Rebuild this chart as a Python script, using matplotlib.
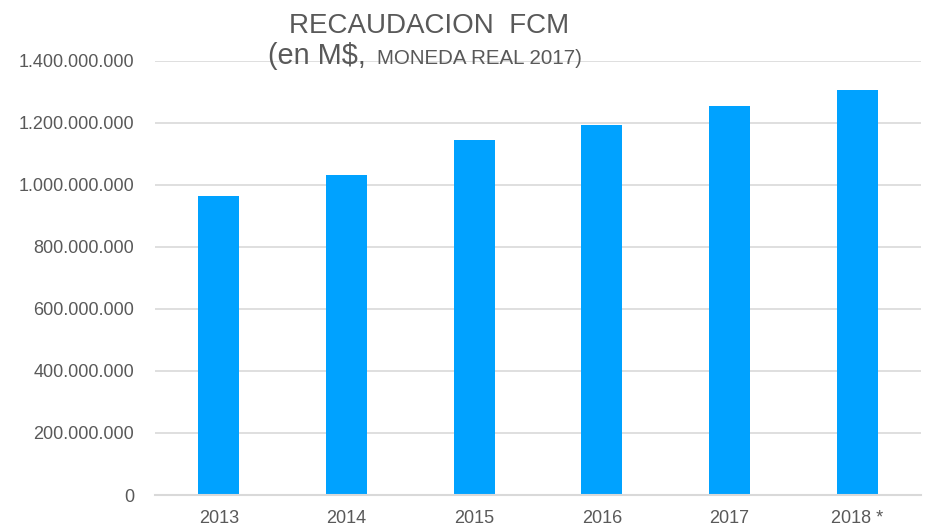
import matplotlib
matplotlib.use("Agg")
import matplotlib.pyplot as plt
from matplotlib.ticker import FuncFormatter, MultipleLocator

plt.rcParams["font.family"] = ["Liberation Sans", "DejaVu Sans"]

# ── Data ─────────────────────────────────────────────────────────────────────
years = ["2013", "2014", "2015", "2016", "2017", "2018 *"]
recaudacion = [965_000_000, 1_030_000_000, 1_145_000_000,
               1_194_000_000, 1_255_000_000, 1_306_000_000]

GRAY = "#595959"
GRID = "#d9d9d9"
BAR = "#00a2ff"


def fmt_miles(v, _pos):
    return f"{v:,.0f}".replace(",", ".")


fig = plt.figure(figsize=(9.3, 5.28), dpi=100)
ax = fig.add_axes([155 / 930, 1 - 495 / 528, (921 - 155) / 930, (495 - 60.7) / 528])

x = range(len(years))
ax.bar(x, recaudacion, width=0.32, color=BAR, zorder=3)

ax.set_xlim(-0.5, len(years) - 0.5)
ax.set_ylim(0, 1_400_000_000)
ax.yaxis.set_major_locator(MultipleLocator(200_000_000))
ax.yaxis.set_major_formatter(FuncFormatter(fmt_miles))
ax.set_xticks(list(x))
ax.set_xticklabels(years)

ax.grid(axis="y", color=GRID, linewidth=1.2, zorder=0)
for side in ["top", "right", "left"]:
    ax.spines[side].set_visible(False)
ax.spines["bottom"].set_color(GRID)
ax.spines["bottom"].set_linewidth(1.5)
ax.spines["bottom"].set_zorder(4)
ax.tick_params(axis="both", length=0, labelsize=13, colors=GRAY)
ax.tick_params(axis="y", pad=15)
ax.tick_params(axis="x", pad=11)

# ── Title ────────────────────────────────────────────────────────────────────
fig.text(429 / 930, 1 - 33 / 528, "RECAUDACION  FCM", ha="center",
         va="baseline", fontsize=20, color=GRAY)
fig.text(268 / 930, 1 - 64 / 528, "(en M$,", ha="left",
         va="baseline", fontsize=20.8, color=GRAY)
fig.text(377 / 930, 1 - 64 / 528, "MONEDA REAL 2017)", ha="left",
         va="baseline", fontsize=14.8, color=GRAY)

fig.savefig("out.png", dpi=100)
